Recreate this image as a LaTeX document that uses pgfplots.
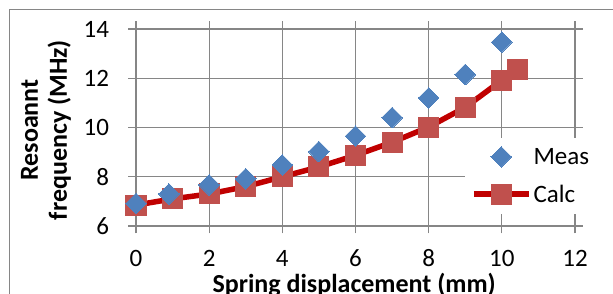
\documentclass[border=0pt]{standalone}
\usepackage{pgfplots}
\pgfplotsset{compat=1.18}
\usepackage{fontspec}
\setmainfont{Carlito}
\definecolor{meas}{HTML}{4F81BD}
\definecolor{calcm}{HTML}{C0504D}
\definecolor{calcl}{HTML}{C00000}
\definecolor{gridc}{HTML}{868686}
\begin{document}
\begin{tikzpicture}[x=1pt,y=1pt]
\path[use as bounding box] (0,0) rectangle (613,294);
\draw[gridc, line width=1pt] (9,284) rectangle (640,-40);
\begin{axis}[
  at={(136pt,68pt)}, anchor=south west,
  scale only axis, width=439pt, height=197pt,
  xmin=0, xmax=12, ymin=6, ymax=14,
  xtick={0,2,...,12}, ytick={6,8,...,14},
  grid=major, major grid style={gridc, line width=1.1pt},
  axis line style={gridc, line width=1.1pt},
  tick style={gridc, line width=1.1pt},
  tick align=outside, major tick length=7.5pt,
  tick label style={font=\fontsize{25}{30}\selectfont},
  xticklabel style={anchor=base, yshift=-33pt},
  yticklabel style={anchor=east, xshift=-16pt},
  /pgf/number format/assume math mode=true,
  xlabel={Spring displacement (mm)},
  ylabel={Resoannt\\frequency (MHz)},
  every axis x label/.style={at={(axis description cs:0.497,-0.338)}, anchor=base, font=\fontsize{26}{30}\selectfont\bfseries},
  every axis y label/.style={at={(axis description cs:-0.205,0.487)}, rotate=90, anchor=center, align=center, font=\fontsize{26}{29}\selectfont\bfseries},
  legend image code/.code={\draw[mark repeat=2,mark phase=2,#1] plot coordinates {(0pt,0pt) (27.5pt,0pt) (55pt,0pt)};},
  legend style={at={(axis description cs:0.749,0.447)}, anchor=north west, draw=none, fill=white,
    inner xsep=6pt, inner ysep=8pt, font=\fontsize{25}{30}\selectfont, row sep=15pt},
  legend cell align=left,
  reverse legend,
]
\addplot[calcl, line width=5.5pt, mark=square*, mark size=10pt, mark options={fill=calcm, draw=calcm, line width=0pt}]
  coordinates {(0,6.85) (1,7.1) (2,7.3) (3,7.6) (4,8.0) (5,8.4) (6,8.87) (7,9.4) (8,10.02) (9,10.82) (10,11.92) (10.42,12.37)};
\addlegendentry{Calc}
\addplot[only marks, mark=square*, mark size=7.3pt, mark options={rotate=45, fill=meas, draw=meas, line width=0pt}]
  coordinates {(0,6.92) (0.9,7.3) (2,7.67) (3,7.92) (4,8.48) (5,9.02) (6,9.65) (7,10.4) (8,11.2) (9,12.15) (10,13.47)};
\addlegendentry{Meas}
\end{axis}
\end{tikzpicture}
\end{document}
